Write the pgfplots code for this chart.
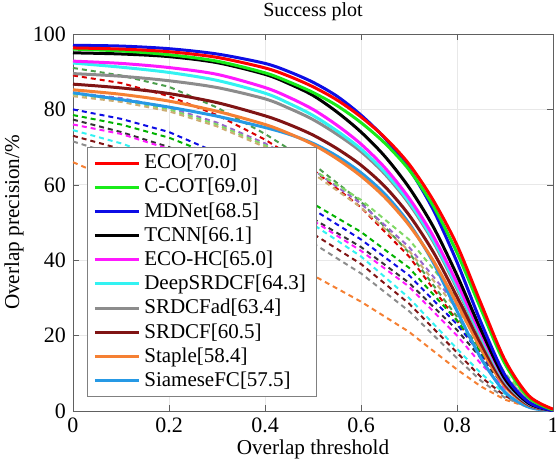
\documentclass[border=0pt]{standalone}
\usepackage{fontspec}
\setmainfont{Liberation Serif}
\usepackage{pgfplots}
\pgfplotsset{compat=1.18}

\definecolor{cECO}{rgb}{1,0,0}
\definecolor{cCCOT}{rgb}{0.1,0.92,0.1}
\definecolor{cMDNet}{rgb}{0.05,0.05,0.9}
\definecolor{cTCNN}{rgb}{0,0,0}
\definecolor{cECOHC}{rgb}{1,0.1,1}
\definecolor{cDeep}{rgb}{0.2,0.95,0.95}
\definecolor{cSRDCFad}{rgb}{0.55,0.55,0.55}
\definecolor{cSRDCF}{rgb}{0.5,0.08,0.08}
\definecolor{cStaple}{rgb}{0.96,0.5,0.2}
\definecolor{cSiam}{rgb}{0.15,0.6,0.9}
\definecolor{cKhaki}{rgb}{0.8,0.68,0.45}
\definecolor{cPurple}{rgb}{0.6,0.4,0.8}
\definecolor{cDGreen}{rgb}{0.3,0.62,0.3}
\definecolor{cLGreen}{rgb}{0.5,0.85,0.4}

\begin{document}
\begin{tikzpicture}
\begin{axis}[
  at={(0,0)}, anchor=south west,
  scale only axis, width=240pt, height=188.5pt,
  xmin=0, xmax=1, ymin=0, ymax=100,
  xtick={0,0.2,0.4,0.6,0.8,1}, ytick={0,20,40,60,80,100},
  grid=major, major grid style={gray!18},
  axis line style={gray!75!black},
  tick style={gray!75!black}, major tick length=3pt,
  tick label style={font=\fontsize{11}{13}\selectfont},
  /pgf/number format/assume math mode=true,
  every axis x label/.style={at={(axis description cs:0.5,0)}, yshift=-19pt, anchor=center},
  every axis y label/.style={at={(axis description cs:0,0.5)}, xshift=-29.5pt, anchor=center, rotate=90},
  every axis title/.style={at={(axis description cs:0.5,1)}, yshift=11pt, anchor=center},
  label style={font=\fontsize{10.6}{12}\selectfont},
  title style={font=\fontsize{10}{12}\selectfont},
  xlabel={Overlap threshold}, ylabel={Overlap precision/\%}, title={Success plot},
  reverse legend,
  legend style={at={(axis description cs:0.029,0.037)}, anchor=south west,
    draw=gray, font=\fontsize{10.5}{12}\selectfont, cells={anchor=west},
    nodes={inner ysep=1.65pt, inner xsep=2pt}},
  legend image code/.code={\draw[#1] (0pt,0pt) -- (22pt,0pt);},
  dsh/.style={line width=1pt, dash pattern=on 2.5pt off 2pt, forget plot},
  sol/.style={line width=1.5pt, smooth},
]
% other trackers, dashed
\addplot[dsh, cDGreen] coordinates {(0,91) (0.1,89) (0.2,86) (0.3,80.5) (0.4,73.5) (0.5,65.5) (0.6,55.5) (0.7,42) (0.8,25) (0.85,16) (0.9,8) (0.95,2.5) (1,0)};
\addplot[dsh, red!85!black] coordinates {(0,89) (0.1,87) (0.2,83.5) (0.3,78.5) (0.4,72) (0.5,64) (0.6,54) (0.7,41) (0.8,24) (0.85,15) (0.9,7) (0.95,2) (1,0)};
\addplot[dsh, cPurple] coordinates {(0,84.5) (0.1,83) (0.2,80.5) (0.3,76.5) (0.4,71) (0.5,64) (0.6,55) (0.7,43.5) (0.8,28) (0.85,19) (0.9,9.5) (0.95,3) (1,0)};
\addplot[dsh, cLGreen] coordinates {(0,84) (0.1,82.5) (0.2,80) (0.3,76) (0.4,70.5) (0.5,64) (0.6,56) (0.7,45.5) (0.8,30) (0.85,20) (0.9,10) (0.95,3) (1,0)};
\addplot[dsh, cKhaki] coordinates {(0,83.5) (0.1,82) (0.2,79.5) (0.3,75.5) (0.4,70) (0.5,63) (0.6,54) (0.7,42.5) (0.8,27) (0.85,18) (0.9,9) (0.95,3) (1,0)};
\addplot[dsh, cMDNet] coordinates {(0,80) (0.1,77.5) (0.2,74) (0.3,68.5) (0.4,61) (0.5,53.5) (0.6,45.5) (0.7,36) (0.8,23) (0.85,15) (0.9,7) (0.95,2) (1,0)};
\addplot[dsh, green!70!black] coordinates {(0,78.5) (0.1,76) (0.2,72.5) (0.3,67.5) (0.4,61.5) (0.5,55) (0.6,47.5) (0.7,38) (0.8,24) (0.85,15.5) (0.9,7.5) (0.95,2) (1,0)};
\addplot[dsh, black!80] coordinates {(0,77.3) (0.1,74) (0.2,70) (0.3,64.5) (0.4,58) (0.5,51) (0.6,43.5) (0.7,34) (0.8,21.5) (0.85,14) (0.9,6.5) (0.95,2) (1,0)};
\addplot[dsh, cECOHC] coordinates {(0,76) (0.1,73.5) (0.2,69.5) (0.3,64) (0.4,57.5) (0.5,50.5) (0.6,42.5) (0.7,33) (0.8,20) (0.85,12.5) (0.9,6) (0.95,1.5) (1,0)};
\addplot[dsh, cDeep] coordinates {(0,74.5) (0.1,71) (0.2,66.5) (0.3,61) (0.4,55.5) (0.5,49.5) (0.6,41) (0.7,30) (0.8,16.5) (0.85,10) (0.9,4.5) (0.95,1) (1,0)};
\addplot[dsh, cSRDCF] coordinates {(0,73) (0.1,69.5) (0.2,65) (0.3,59) (0.4,53) (0.5,47) (0.6,39) (0.7,28.5) (0.8,15.5) (0.85,9) (0.9,4) (0.95,1) (1,0)};
\addplot[dsh, cSRDCFad] coordinates {(0,71.5) (0.1,67.5) (0.2,62.5) (0.3,57) (0.4,51) (0.5,44.5) (0.6,36.5) (0.7,26.5) (0.8,14) (0.85,8) (0.9,3.5) (0.95,1) (1,0)};
\addplot[dsh, cStaple] coordinates {(0,66) (0.1,60.5) (0.2,54) (0.3,47.5) (0.4,41.5) (0.5,36) (0.6,29) (0.7,21) (0.8,11) (0.85,6.5) (0.9,3) (0.95,1) (1,0)};
% top trackers, solid (drawn last so they are in front; legend reversed)
\addplot[sol, cSiam] coordinates {(0,84.4) (0.1,82.6) (0.2,80.6) (0.3,78.2) (0.4,75.2) (0.45,73.4) (0.5,71) (0.55,67.6) (0.6,63.2) (0.65,57.5) (0.7,49.8) (0.75,39.5) (0.8,26.5) (0.85,14) (0.9,5) (0.95,1) (1,0.05)};
\addlegendentry{SiameseFC[57.5]}
\addplot[sol, cStaple] coordinates {(0,85.2) (0.1,84) (0.2,82.2) (0.3,79.5) (0.4,76) (0.45,73.6) (0.5,70.7) (0.55,66.9) (0.6,62.3) (0.65,56.6) (0.7,49.3) (0.75,40) (0.8,28.5) (0.85,16.5) (0.9,6.5) (0.95,1.5) (1,0.1)};
\addlegendentry{Staple[58.4]}
\addplot[sol, cSRDCF] coordinates {(0,86.7) (0.1,85.7) (0.2,84.2) (0.3,81.8) (0.4,78.3) (0.45,76) (0.5,73.2) (0.55,69.6) (0.6,65.2) (0.65,59.5) (0.7,52) (0.75,42.3) (0.8,30.3) (0.85,17.8) (0.9,7) (0.95,1.6) (1,0.1)};
\addlegendentry{SRDCF[60.5]}
\addplot[sol, cSRDCFad] coordinates {(0,89.5) (0.1,88.8) (0.2,87.6) (0.3,85.8) (0.4,82.8) (0.45,80.3) (0.5,77.3) (0.55,73.4) (0.6,68.8) (0.65,62.8) (0.7,55) (0.75,45) (0.8,32.5) (0.85,19.3) (0.9,7.8) (0.95,1.8) (1,0.1)};
\addlegendentry{SRDCFad[63.4]}
\addplot[sol, cDeep] coordinates {(0,92.3) (0.1,91.2) (0.2,89.8) (0.3,87.7) (0.4,84.3) (0.45,81.6) (0.5,78.4) (0.55,74.3) (0.6,69.5) (0.65,63.3) (0.7,55.5) (0.75,45.5) (0.8,33) (0.85,19.8) (0.9,8) (0.95,1.9) (1,0.1)};
\addlegendentry{DeepSRDCF[64.3]}
\addplot[sol, cECOHC] coordinates {(0,92.8) (0.1,92.2) (0.2,91.1) (0.3,89.3) (0.4,85.8) (0.45,83.2) (0.5,80) (0.55,75.8) (0.6,70.8) (0.65,64.5) (0.7,56.5) (0.75,46.5) (0.8,34) (0.85,20.5) (0.9,8.3) (0.95,2) (1,0.1)};
\addlegendentry{ECO-HC[65.0]}
\addplot[sol, cTCNN] coordinates {(0,95) (0.1,94.7) (0.2,94) (0.3,92.4) (0.4,89.3) (0.45,86.8) (0.5,83.7) (0.55,79.3) (0.6,74) (0.65,67.5) (0.7,59.3) (0.75,49) (0.8,36) (0.85,21.5) (0.9,8.5) (0.95,2) (1,0.1)};
\addlegendentry{TCNN[66.1]}
\addplot[sol, cMDNet] coordinates {(0,97) (0.1,96.8) (0.2,96.1) (0.3,94.7) (0.4,92.2) (0.45,90) (0.5,87.2) (0.55,83.5) (0.6,78.5) (0.65,72.3) (0.7,64.3) (0.75,53.5) (0.8,39.5) (0.85,23.5) (0.9,9.5) (0.95,2.3) (1,0.1)};
\addlegendentry{MDNet[68.5]}
\addplot[sol, cCCOT] coordinates {(0,96) (0.1,95.5) (0.2,94.5) (0.3,92.8) (0.4,89.7) (0.45,87.3) (0.5,84.5) (0.55,81) (0.6,76.5) (0.65,71) (0.7,64) (0.75,54.5) (0.8,42) (0.85,27) (0.9,12.5) (0.95,3.5) (1,0.3)};
\addlegendentry{C-COT[69.0]}
\addplot[sol, cECO] coordinates {(0,96.3) (0.1,96) (0.2,95.3) (0.3,93.8) (0.4,91) (0.45,88.8) (0.5,86) (0.55,82.5) (0.6,78) (0.65,72.5) (0.7,65.5) (0.75,56) (0.8,44) (0.85,28.5) (0.9,13.5) (0.95,4) (1,0.5)};
\addlegendentry{ECO[70.0]}
\end{axis}
\pgfresetboundingbox
\path (-36.5pt,-25pt) rectangle (241.5pt,205.5pt);
\end{tikzpicture}
\end{document}
